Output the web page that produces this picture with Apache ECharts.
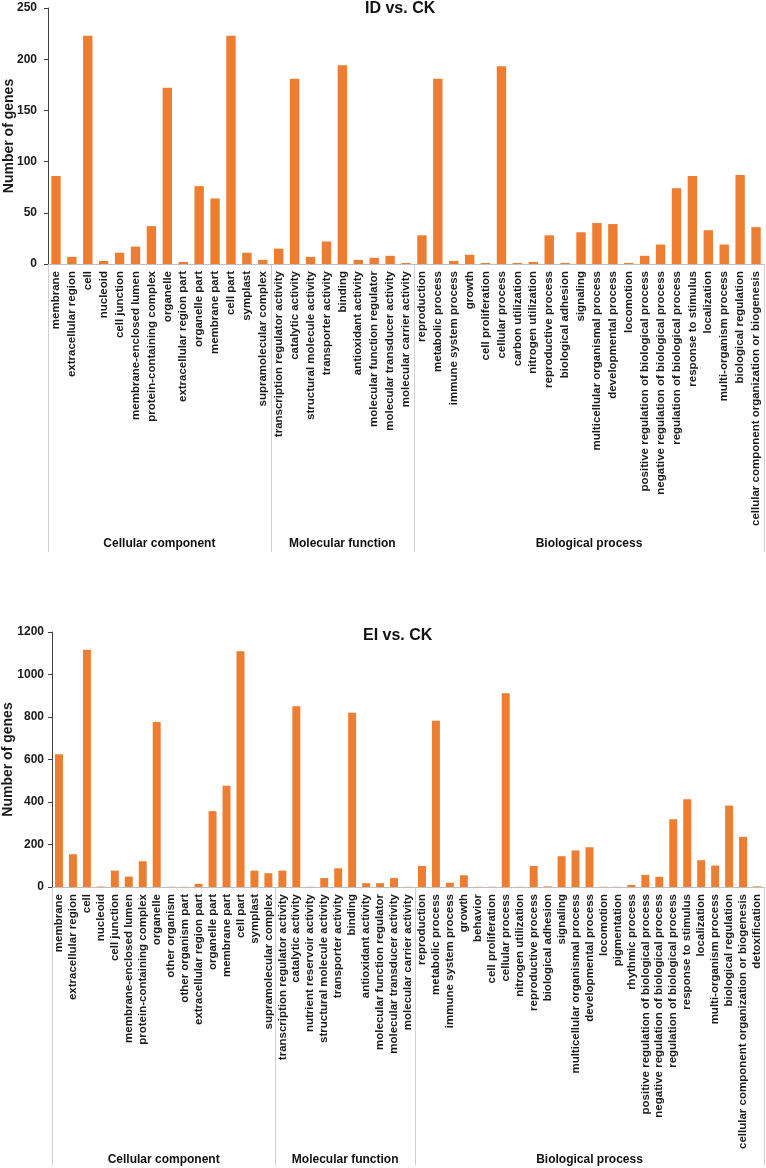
<!DOCTYPE html>
<html><head><meta charset="utf-8">
<script src="https://cdn.jsdelivr.net/npm/echarts@6/dist/echarts.min.js"></script>
<style>html,body{margin:0;padding:0;background:#fff}#c{width:766px;height:1168px}</style>
</head><body><div id="c"></div>
<script>
// ---------- Data: ID vs. CK ----------
const title1 = 'ID vs. CK';
const cc1Cats = ['membrane','extracellular region','cell','nucleoid','cell junction','membrane-enclosed lumen','protein-containing complex','organelle','extracellular region part','organelle part','membrane part','cell part','symplast','supramolecular complex'];
const cc1Vals = [86, 7, 223, 3, 11, 17, 37, 172, 2, 76, 64, 223, 11, 4];
const mf1Cats = ['transcription regulator activity','catalytic activity','structural molecule activity','transporter activity','binding','antioxidant activity','molecular function regulator','molecular transducer activity','molecular carrier activity'];
const mf1Vals = [15, 181, 7, 22, 194, 4, 6, 8, 1];
const bp1Cats = ['reproduction','metabolic process','immune system process','growth','cell proliferation','cellular process','carbon utilization','nitrogen utilization','reproductive process','biological adhesion','signaling','multicellular organismal process','developmental process','locomotion','positive regulation of biological process','negative regulation of biological process','regulation of biological process','response to stimulus','localization','multi-organism process','biological regulation','cellular component organization or biogenesis'];
const bp1Vals = [28, 181, 3, 9, 1, 193, 1, 2, 28, 1, 31, 40, 39, 1, 8, 19, 74, 86, 33, 19, 87, 36];
const y1Max = 250, y1Step = 50;

// ---------- Data: EI vs. CK ----------
const title2 = 'EI vs. CK';
const cc2Cats = ['membrane','extracellular region','cell','nucleoid','cell junction','membrane-enclosed lumen','protein-containing complex','organelle','other organism','other organism part','extracellular region part','organelle part','membrane part','cell part','symplast','supramolecular complex'];
const cc2Vals = [625, 154, 1117, 2, 77, 49, 121, 776, 1, 1, 15, 357, 476, 1110, 77, 65];
const mf2Cats = ['transcription regulator activity','catalytic activity','nutrient reservoir activity','structural molecule activity','transporter activity','binding','antioxidant activity','molecular function regulator','molecular transducer activity','molecular carrier activity'];
const mf2Vals = [77, 851, 1, 42, 88, 820, 18, 18, 42, 1];
const bp2Cats = ['reproduction','metabolic process','immune system process','growth','behavior','cell proliferation','cellular process','nitrogen utilization','reproductive process','biological adhesion','signaling','multicellular organismal process','developmental process','locomotion','pigmentation','rhythmic process','positive regulation of biological process','negative regulation of biological process','regulation of biological process','response to stimulus','localization','multi-organism process','biological regulation','cellular component organization or biogenesis','detoxification'];
const bp2Vals = [99, 782, 20, 55, 1, 1, 912, 1, 99, 3, 145, 172, 187, 1, 1, 10, 57, 48, 319, 413, 126, 101, 383, 236, 3];
const y2Max = 1200, y2Step = 200;

const groupNames = ['Cellular component', 'Molecular function', 'Biological process'];
const yName = 'Number of genes';

// ---------- Build ----------
const FONT = '"Liberation Sans", Arial, sans-serif';
const ORANGE = '#ED7D31';
const cats1 = cc1Cats.concat(mf1Cats, bp1Cats);
const vals1 = cc1Vals.concat(mf1Vals, bp1Vals);
const cats2 = cc2Cats.concat(mf2Cats, bp2Cats);
const vals2 = cc2Vals.concat(mf2Vals, bp2Vals);
const groups1 = [cc1Cats.length, mf1Cats.length, bp1Cats.length];
const groups2 = [cc2Cats.length, mf2Cats.length, bp2Cats.length];

const chart = echarts.init(document.getElementById('c'), null, {renderer: 'canvas'});

function xAx(idx, cats) {
  return {
    type: 'category', gridIndex: idx, data: cats,
    axisLine: {show: true, lineStyle: {color: '#bfbfbf', width: 1}},
    axisTick: {show: false},
    axisLabel: {interval: 0, rotate: 90, margin: 7, fontFamily: FONT, fontSize: 11.5, fontWeight: 'bold', color: '#1a1a1a', hideOverlap: false}
  };
}
function yAx(idx, max, step, gap, margin) {
  return {
    type: 'value', gridIndex: idx, min: 0, max: max, interval: step,
    name: yName, nameLocation: 'middle', nameGap: gap, nameRotate: 90, nameMoveOverlap: false,
    nameTextStyle: {fontFamily: FONT, fontSize: 14, fontWeight: 'bold', color: '#1a1a1a'},
    axisLine: {show: true, lineStyle: {color: '#404040', width: 1}},
    axisTick: {show: true, length: 4, lineStyle: {color: '#404040'}},
    splitLine: {show: false},
    axisLabel: {fontFamily: FONT, fontSize: 12, fontWeight: 'bold', color: '#1a1a1a', margin: margin, formatter: v => String(v)}
  };
}

chart.setOption({
  animation: false,
  backgroundColor: '#fff',
  title: [
    {text: title1, left: 365, top: 1, padding: 0, textStyle: {fontFamily: FONT, fontSize: 16, fontWeight: 'bold', color: '#111'}},
    {text: title2, left: 363, top: 628, padding: 0, textStyle: {fontFamily: FONT, fontSize: 16, fontWeight: 'bold', color: '#111'}}
  ],
  grid: [
    {left: 48, top: 8, width: 716, height: 256, containLabel: false, outerBoundsMode: 'none'},
    {left: 52, top: 632, width: 712, height: 255, containLabel: false, outerBoundsMode: 'none'}
  ],
  xAxis: [xAx(0, cats1), xAx(1, cats2)],
  yAxis: [yAx(0, y1Max, y1Step, 32, 11), yAx(1, y2Max, y2Step, 37, 8)],
  series: [
    {type: 'bar', xAxisIndex: 0, yAxisIndex: 0, data: vals1, barCategoryGap: '41%', itemStyle: {color: ORANGE}},
    {type: 'bar', xAxisIndex: 1, yAxisIndex: 1, data: vals2, barCategoryGap: '43%', itemStyle: {color: ORANGE}}
  ]
});

// group separators & labels computed from the axes' own scales
function groupGraphics(axisIdx, cats, groups, lineDrop, labelY) {
  const px = i => chart.convertToPixel({xAxisIndex: axisIdx}, cats[i]);
  const band = px(1) - px(0);
  const y0 = chart.convertToPixel({yAxisIndex: axisIdx}, 0);
  const els = [];
  let start = 0;
  const bounds = [px(0) - band / 2];
  groups.forEach(n => { start += n; bounds.push(px(start - 1) + band / 2); });
  bounds.forEach(x => {
    els.push({type: 'line', shape: {x1: Math.round(x) + 0.5, y1: y0, x2: Math.round(x) + 0.5, y2: y0 + lineDrop}, style: {stroke: '#d0d0d0', lineWidth: 1}, silent: true});
  });
  for (let g = 0; g < groups.length; g++) {
    els.push({type: 'text', x: (bounds[g] + bounds[g + 1]) / 2, y: labelY,
      style: {text: groupNames[g], fontFamily: FONT, fontSize: 12, fontWeight: 'bold', fill: '#111', align: 'center', verticalAlign: 'middle'}, silent: true});
  }
  return els;
}
chart.setOption({graphic: groupGraphics(0, cats1, groups1, 288, 544).concat(groupGraphics(1, cats2, groups2, 278, 1160))});
</script></body></html>
